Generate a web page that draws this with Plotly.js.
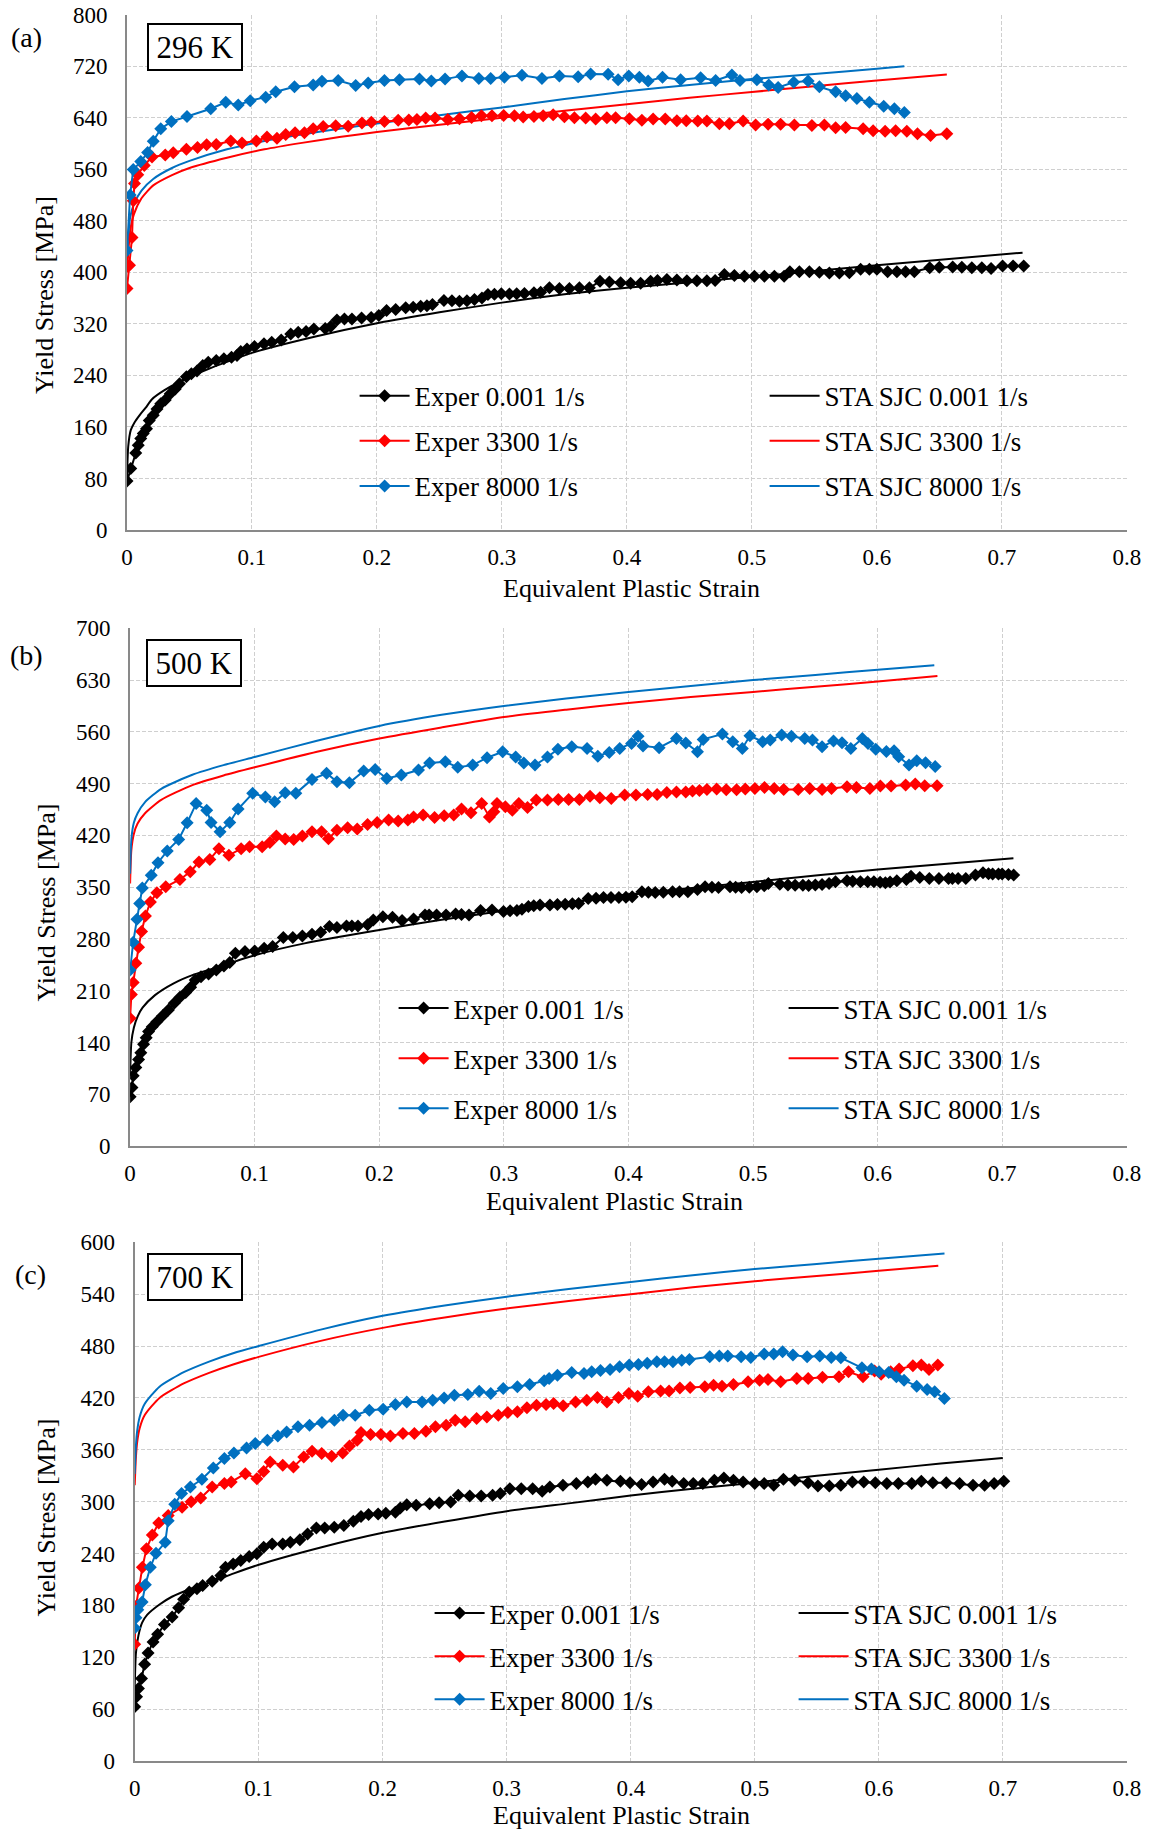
<!DOCTYPE html>
<html>
<head>
<meta charset="utf-8">
<script src="https://cdn.plot.ly/plotly-3.0.1.min.js"></script>
<style>
html,body{margin:0;padding:0;background:#fff;}
#chart{width:1151px;height:1829px;}
</style>
</head>
<body>
<div id="chart"></div>
<script>
// ---------------- DATA ----------------
// Panel (a) 296 K
const a_exp001_x = [0,0.003,0.007,0.009,0.011,0.013,0.0156,0.0178,0.021,0.024,0.027,0.0306,0.0346,0.0386,0.042,0.0475,0.0515,0.056,0.0606,0.065,0.0714,0.0775,0.0836,0.088,0.091,0.096,0.102,0.1096,0.1158,0.1234,0.131,0.137,0.1433,0.1495,0.1586,0.163,0.168,0.174,0.18,0.1877,0.1954,0.2015,0.2077,0.215,0.223,0.229,0.235,0.24,0.2444,0.2536,0.26,0.266,0.272,0.278,0.284,0.2888,0.294,0.2995,0.306,0.3118,0.318,0.3256,0.331,0.338,0.346,0.354,0.362,0.37,0.3785,0.386,0.395,0.403,0.411,0.419,0.4245,0.432,0.44,0.448,0.456,0.464,0.4706,0.478,0.486,0.494,0.502,0.51,0.518,0.5258,0.5304,0.538,0.546,0.554,0.562,0.57,0.578,0.587,0.594,0.6,0.6086,0.616,0.623,0.63,0.6423,0.65,0.6607,0.668,0.676,0.684,0.6914,0.7006,0.709,0.7175];
const a_exp001_y = [75.9,95.5,119.7,131.6,142,150,157,170,178,188,196,202,211.6,219,227,238,242.5,246.7,255.4,260.6,263,265.7,268,271,277,281,285,289,291.5,295,304.4,307,308,312,313,315.8,326,327.7,327.7,329,330,333,340.6,342.3,345,346,347.5,348,350,356.3,356,355.3,356,357.9,360,365.7,366,366.7,366.5,366.7,367,368.3,369,376,375,375,376,376,386,385,384,383,383,386,387.5,389,388,387,387,387,387.5,396.5,395,394,394,394,394,394,401,401,401,400,399,399,399.4,404.7,405,404.7,401,401,401,401,407,408,408.3,408,407,407,406,410,410,410];
const a_exp3300_x = [0,0.002,0.004,0.005,0.006,0.0086,0.0138,0.02,0.0306,0.037,0.0475,0.0564,0.0637,0.0714,0.083,0.092,0.1035,0.112,0.12,0.127,0.1345,0.142,0.149,0.157,0.167,0.177,0.188,0.1955,0.206,0.217,0.2255,0.232,0.239,0.2465,0.2567,0.266,0.2757,0.2836,0.292,0.3014,0.31,0.317,0.3256,0.333,0.341,0.35,0.358,0.367,0.375,0.384,0.391,0.402,0.412,0.421,0.4307,0.44,0.4475,0.4567,0.464,0.474,0.482,0.493,0.503,0.513,0.523,0.534,0.548,0.558,0.567,0.575,0.589,0.597,0.6066,0.615,0.624,0.6325,0.643,0.656];
const a_exp3300_y = [375,411,454,511,538,551.7,566,579,582.3,585.5,591,594,598,598.5,604,601,604,610,608,614,616.6,616.6,623,626.5,627.5,627,632,633,634,636,636.4,637.4,639.5,639.5,637.4,638.4,640.5,643,643,643.6,643,641,642,643,644.5,641.5,640.2,639.5,638,640,640,638.4,636,638,638,635.3,635.3,634.8,634.8,630.6,630.6,634.8,628.6,630,630,628.6,628,628.6,624.4,625,622.8,620,619,620,619,615,612.5,615];
const a_exp8000_x = [0,0.0025,0.005,0.011,0.0165,0.021,0.027,0.0355,0.048,0.067,0.079,0.089,0.0986,0.111,0.119,0.134,0.149,0.156,0.169,0.183,0.193,0.206,0.218,0.234,0.2435,0.2545,0.268,0.2815,0.291,0.302,0.316,0.332,0.346,0.361,0.371,0.385,0.393,0.4015,0.41,0.417,0.4285,0.443,0.459,0.471,0.484,0.4905,0.504,0.5135,0.521,0.5335,0.545,0.554,0.567,0.575,0.584,0.594,0.6055,0.614,0.622];
const a_exp8000_y = [434,520,559.5,572,586,603.6,623,634,642,654,664,660,666.5,672,680.5,688,691,696.6,697.7,690,694,697.7,699,700,697,700,705,701,701,703,706,701,705,703.5,708,707.5,699,705,703,697,703,699,702,698,706.5,698,699,691,687,695,697,688,680.5,674,670,664,657.7,654,648];
const a_sjc001_x = [0,0.001,0.003,0.006,0.01,0.015,0.02,0.03,0.048,0.065,0.08,0.1,0.15,0.2,0.25,0.3,0.35,0.4,0.5,0.6,0.7166];
const a_sjc001_y = [80,130,155,167,178,190,203,217,236,250,261,275,300,321,338,353,366,376,393,411,430.6];
const a_sjc3300_x = [0,0.0025,0.0055,0.0116,0.021,0.036,0.05,0.08,0.11,0.14,0.17,0.2,0.25,0.3,0.35,0.4,0.45,0.5,0.55,0.6,0.656];
const a_sjc3300_y = [400,464,490,515,535,551,562,578,591,601,610,618,629,640,651,661,671,680,689,698,707];
const a_sjc8000_x = [0,0.0025,0.0055,0.0116,0.021,0.036,0.05,0.08,0.11,0.14,0.17,0.2,0.25,0.3,0.35,0.4,0.45,0.5,0.55,0.6,0.622];
const a_sjc8000_y = [430,485,506,527,545,562,573,591,604,614,623,631,644,656,669,681,691,700,708,716,720];

// Panel (b) 500 K
const b_exp001_x = [0,0.0015,0.0025,0.0046,0.0068,0.0086,0.0108,0.0129,0.0148,0.0178,0.0215,0.0261,0.0307,0.0354,0.04,0.0446,0.0486,0.0523,0.0569,0.063,0.0692,0.0753,0.08,0.0845,0.0922,0.1,0.1076,0.1144,0.123,0.1306,0.1383,0.146,0.153,0.16,0.166,0.1737,0.178,0.1829,0.1906,0.1952,0.2029,0.2106,0.2183,0.2275,0.2367,0.24,0.246,0.2536,0.2613,0.266,0.272,0.2813,0.2905,0.2997,0.305,0.3105,0.3145,0.3197,0.324,0.329,0.337,0.343,0.3492,0.355,0.36,0.3677,0.374,0.38,0.386,0.3923,0.398,0.403,0.4108,0.416,0.4215,0.428,0.4354,0.441,0.4477,0.4554,0.4615,0.467,0.4723,0.4815,0.486,0.4908,0.497,0.5031,0.509,0.5123,0.5215,0.528,0.5338,0.54,0.5446,0.55,0.5554,0.561,0.5662,0.5754,0.58,0.5862,0.592,0.597,0.602,0.6062,0.61,0.6154,0.6231,0.6268,0.6338,0.6415,0.6492,0.6569,0.66,0.6646,0.6708,0.6785,0.6846,0.689,0.6923,0.697,0.7,0.705,0.7092];
const b_exp001_y = [66.7,79,95,106,117,126,137.5,146.5,154.7,161.4,168,176,184,193,201,207.4,214.6,224.5,229,232.7,238,243.5,248,260.6,263,263.8,267.4,269.6,282,281.8,284,286.3,289,296.7,295.3,297.6,297.6,297.6,299,305.7,310,309.3,304.8,307,312.5,312.5,312.5,312.5,313.8,313,312.5,318.3,319.2,317,318,318.3,320,323.7,325,326,325.7,326.5,327,327.5,328,334.7,335,336,336,336,336.5,337,343.7,343,342.8,343,343.7,343.7,343.7,346.9,350.5,350,349.6,350.5,350,349.6,350,350.5,352,355,354,353,352.7,352.5,352.3,353,353.6,355,357.2,358.6,358,357.2,357.2,357.2,356.5,356,357,358.6,360.4,364.9,363,361.8,361.8,361.8,361.8,361.8,361.8,366.3,369.4,368,367.7,367.7,367.7,367,366.3];
const b_exp3300_x = [0,0.001,0.0025,0.0046,0.0068,0.0092,0.0123,0.0163,0.0215,0.0286,0.04,0.0483,0.0553,0.064,0.0713,0.0793,0.0891,0.0959,0.106,0.1122,0.1174,0.1245,0.1313,0.1383,0.146,0.1537,0.1592,0.166,0.1746,0.1823,0.1906,0.1983,0.2075,0.2152,0.2229,0.2275,0.2352,0.2444,0.2521,0.2598,0.266,0.2736,0.2822,0.2884,0.292,0.2945,0.3012,0.3068,0.312,0.319,0.326,0.335,0.3437,0.352,0.3606,0.3692,0.377,0.3862,0.397,0.406,0.4154,0.423,0.4308,0.4385,0.446,0.4514,0.457,0.463,0.4708,0.4785,0.4868,0.4938,0.5015,0.5092,0.517,0.5246,0.5363,0.5455,0.5554,0.563,0.5754,0.583,0.5938,0.6022,0.6108,0.6225,0.6302,0.6378,0.6477];
const b_exp3300_y = [172.7,205,221,247,268.7,290,311,330,342.3,350.5,360.4,370.8,384,387.5,402,393,402,404.6,404.6,410.5,419,415,414.5,419,425,425,415.4,427,430.3,428.5,434.8,437.5,440.7,439.3,440.7,445,447.4,444.3,446.5,447.4,455.6,450.6,463,445,452,463,458.7,454,463,457.8,467.7,467.7,468.6,468.6,468.6,473,471,469.9,474.5,474.5,475.4,475.4,478,478.5,478.5,480,480.8,482.2,482.6,481.8,481.8,482.6,483.5,484.8,483.5,482.2,482.2,483.5,482.2,483.5,485.8,484.8,483.5,486.6,486.6,488,489.4,487.1,487.1];
const b_exp8000_x = [0,0.0025,0.0055,0.0077,0.0098,0.017,0.0224,0.0298,0.039,0.0458,0.053,0.0615,0.065,0.0722,0.08,0.0867,0.0984,0.1086,0.116,0.1245,0.133,0.146,0.1577,0.166,0.176,0.1875,0.1967,0.206,0.2177,0.2315,0.2404,0.253,0.263,0.275,0.2865,0.299,0.3095,0.316,0.325,0.335,0.3434,0.3545,0.3668,0.3754,0.3846,0.393,0.4025,0.4077,0.4117,0.4246,0.4385,0.446,0.4554,0.46,0.4754,0.4837,0.4914,0.4975,0.5077,0.5138,0.523,0.5308,0.5415,0.5477,0.5554,0.5646,0.5714,0.5785,0.5877,0.5923,0.5985,0.607,0.6132,0.6169,0.6252,0.6314,0.6385,0.6462];
const b_exp8000_y = [238,275.5,306.5,328,349,366,383,399,414.5,437,463,454,437.5,425,437.5,455.6,476.8,472,465.5,477.6,476.8,495.7,504,492.6,491,507,509,497,501.6,508.3,518,519.6,512,515,525,533,526,518,515,526,536.5,540,537.6,527,532,537.6,544.4,554,541,538.6,551,545,533,549.8,557,546.7,537.6,554.6,546.7,548.9,555.6,554,551,548.9,540,547.6,545.4,537.6,551,544.4,536.5,533.4,534.3,526.4,515,521,518.3,513];
const b_sjc001_x = [0,0.001,0.003,0.006,0.01,0.02,0.035,0.05,0.065,0.085,0.1,0.14,0.2,0.25,0.3,0.35,0.4,0.5,0.6,0.709];
const b_sjc001_y = [95,140,160,175,187,204,220,231,239,250,258,274,292,306,318,329,340,357,374,389];
const b_sjc3300_x = [0,0.001,0.003,0.006,0.012,0.025,0.05,0.075,0.1,0.15,0.2,0.25,0.3,0.35,0.4,0.45,0.5,0.55,0.6,0.648];
const b_sjc3300_y = [355,400,422,436,450,468,488,501,512,533,551,566,580,590,599,607,614,621,628,635.5];
const b_sjc8000_x = [0,0.001,0.003,0.006,0.012,0.025,0.05,0.075,0.1,0.15,0.2,0.25,0.3,0.35,0.4,0.45,0.5,0.55,0.6,0.6455];
const b_sjc8000_y = [368,415,437,450,465,483,502,515,526,548,568,583,595,605,614,622,630,637,644,650];

// Panel (c) 700 K
const c_exp001_x = [0,0.0015,0.003,0.0055,0.008,0.0108,0.0148,0.0185,0.024,0.0302,0.0354,0.0394,0.044,0.0502,0.0548,0.0625,0.0695,0.0732,0.0794,0.0855,0.0923,0.0985,0.104,0.1108,0.1194,0.1255,0.1332,0.1394,0.1465,0.1532,0.1609,0.1686,0.1763,0.1825,0.1886,0.1963,0.2025,0.2102,0.2142,0.2194,0.227,0.2378,0.2455,0.2548,0.2609,0.2702,0.2794,0.2886,0.2948,0.3025,0.3117,0.3209,0.3286,0.3348,0.3453,0.3561,0.3654,0.3716,0.3808,0.3917,0.3994,0.4087,0.418,0.4272,0.4334,0.4427,0.4504,0.4581,0.4674,0.4751,0.4828,0.4906,0.5,0.5076,0.5153,0.5231,0.5323,0.5431,0.5509,0.5601,0.5694,0.5787,0.5879,0.5972,0.6065,0.6158,0.6266,0.6343,0.6436,0.6544,0.6652,0.676,0.6853,0.693,0.7008];
const c_exp001_y = [62.7,74.2,83.8,95.4,112,125,137.7,146.5,158,166.5,177.3,187,195.4,199.2,203,208,214.6,224.2,228,232,236.5,239.6,247.3,251.1,251.1,253,255.8,262.7,269.6,269.6,270.4,272.3,277.3,282.7,285,285.8,286.5,287.7,292.7,296.5,295.7,297.7,298.8,299.6,307.3,306.6,306.6,307.3,309.3,315,315,315,312,317,319,320.9,322.8,325.9,324.7,323.6,322,319.7,322.8,325.9,323.6,320.9,320.9,320.9,324.7,327.4,324.7,322.8,320.9,320.9,319,325.9,324.7,322,318.2,318.2,319,322.8,322.8,322,320.9,320.9,320.9,323.6,322,322,320.9,319,319,320.9,323.6];
const c_exp3300_x = [0,0.001,0.0034,0.0062,0.0095,0.0142,0.0194,0.027,0.0382,0.0455,0.0532,0.0625,0.0723,0.0778,0.0892,0.0985,0.104,0.1092,0.1194,0.128,0.1363,0.143,0.1508,0.1588,0.1677,0.1732,0.1794,0.1825,0.1902,0.1985,0.2062,0.2163,0.2255,0.2348,0.2425,0.2511,0.2585,0.2665,0.2757,0.284,0.2932,0.3009,0.3086,0.3163,0.324,0.3317,0.3378,0.3455,0.3555,0.3645,0.3731,0.3808,0.3901,0.3985,0.4056,0.4142,0.4241,0.4309,0.4396,0.4479,0.4597,0.4668,0.4736,0.4828,0.4946,0.5039,0.5107,0.5209,0.5339,0.5431,0.5546,0.5679,0.5756,0.5873,0.5966,0.6019,0.6096,0.6164,0.6275,0.6343,0.6405,0.6476];
const c_exp3300_y = [135,178.8,200,224,245.4,261.5,275.2,284,293.6,300,304.2,317,320.9,322.8,332.4,326.6,335,345.9,342,340.2,351.7,358.3,355.6,352.5,356.4,364.5,371,380,377.6,377.6,376,378.8,378.8,381.5,386.5,388.4,394.2,392.3,396.1,398,400,403,403.9,408.5,411.6,412.4,413.5,411,415.4,417.4,420.4,415.4,420.4,425,422,427,428.1,428.1,431.6,432,432.8,434.7,433.6,435.5,438.6,440.5,441.3,438.6,442.5,442.5,444,444.4,450.2,444.4,451,447.5,450.2,453.3,457.1,458,452.9,458];
const c_exp8000_x = [0,0.001,0.0025,0.006,0.0086,0.0126,0.0172,0.0246,0.027,0.0323,0.0378,0.0449,0.0542,0.0634,0.0723,0.08,0.0902,0.0972,0.107,0.1154,0.1225,0.1317,0.141,0.151,0.161,0.168,0.1778,0.1892,0.2003,0.2102,0.2194,0.2317,0.2403,0.2495,0.2578,0.2686,0.2778,0.2871,0.2972,0.3086,0.3185,0.3302,0.3342,0.3409,0.3524,0.3623,0.3685,0.3756,0.3833,0.391,0.3988,0.4062,0.4133,0.421,0.4272,0.434,0.4411,0.4473,0.4637,0.4714,0.4782,0.489,0.4968,0.5076,0.5153,0.5224,0.5308,0.5422,0.5524,0.5617,0.5694,0.5864,0.5941,0.6003,0.608,0.6142,0.6204,0.6306,0.639,0.6451,0.6529];
const c_exp8000_y = [153.8,165.8,175,183.8,203.8,224,240.4,253,278,297,309.3,317,325.9,339,350,356.4,362.2,367.2,371,376,380.7,386.5,388.4,391.5,394.2,400,400,405.8,407,412.4,415.4,415.4,417.4,420,423.2,424,427.8,425,430.9,432.8,435.5,439.8,442.5,446.3,449.4,448.3,450.2,451.7,452.9,456,458,458.7,460,461.8,461.8,461.8,463.7,464.5,467.6,468.4,468.4,467.6,466.8,470.7,470.7,473.4,469.5,467.6,468.4,466.8,466.4,454.8,453.3,450.2,449.4,444.4,440.5,433.6,429.7,427,419.2];
const c_sjc001_x = [0,0.001,0.003,0.006,0.01,0.02,0.03,0.045,0.06,0.08,0.1,0.15,0.2,0.25,0.3,0.35,0.4,0.45,0.5,0.55,0.6,0.65,0.7];
const c_sjc001_y = [86,125,145,160,169,181,190,199,206,217,227,247,264,277,289,298,307,315,322,330,337,344,350.6];
const c_sjc3300_x = [0,0.001,0.002,0.004,0.008,0.02,0.04,0.06,0.08,0.1,0.15,0.2,0.25,0.3,0.35,0.4,0.45,0.5,0.55,0.6,0.648];
const c_sjc3300_y = [319,352,369,385,400,420,437,449,459,467.5,486,501,513,523.5,532,540,548,555,561,567,573];
const c_sjc8000_x = [0,0.001,0.002,0.004,0.008,0.02,0.04,0.06,0.08,0.1,0.15,0.2,0.25,0.3,0.35,0.4,0.45,0.5,0.55,0.6,0.653];
const c_sjc8000_y = [332,365,382,398,413,433,450,462,472,480,499,515,527,537,546,554,562,569,575,581,587];

const seriesNames = ['Exper 0.001 1/s','Exper 3300 1/s','Exper 8000 1/s','STA SJC 0.001 1/s','STA SJC 3300 1/s','STA SJC 8000 1/s'];
const panelLabels = ['(a)','(b)','(c)'];
const tempLabels = ['296 K','500 K','700 K'];
const xTicks = [0,0.1,0.2,0.3,0.4,0.5,0.6,0.7,0.8];
const yMaxes = [800,700,600];
const yDticks = [80,70,60];
const xTitle = 'Equivalent Plastic Strain';
const yTitle = 'Yield Stress [MPa]';

// ---------------- STYLE / LAYOUT ----------------
const W = 1151, H = 1829;
const FONT = 'Liberation Serif';
const COLORS = ['#000000', '#FF0000', '#0070C0'];
const px = v => v / W;
const py = v => 1 - v / H;

// plot-area pixel boxes [left, right, top, bottom]
const boxes = [
  [127, 1126.8, 14.7, 530],
  [130.1, 1126.8, 628.3, 1146],
  [134.7, 1126.8, 1242.3, 1761]
];

const panels = [
  {exp:[[a_exp001_x,a_exp001_y],[a_exp3300_x,a_exp3300_y],[a_exp8000_x,a_exp8000_y]],
   sjc:[[a_sjc001_x,a_sjc001_y],[a_sjc3300_x,a_sjc3300_y],[a_sjc8000_x,a_sjc8000_y]]},
  {exp:[[b_exp001_x,b_exp001_y],[b_exp3300_x,b_exp3300_y],[b_exp8000_x,b_exp8000_y]],
   sjc:[[b_sjc001_x,b_sjc001_y],[b_sjc3300_x,b_sjc3300_y],[b_sjc8000_x,b_sjc8000_y]]},
  {exp:[[c_exp001_x,c_exp001_y],[c_exp3300_x,c_exp3300_y],[c_exp8000_x,c_exp8000_y]],
   sjc:[[c_sjc001_x,c_sjc001_y],[c_sjc3300_x,c_sjc3300_y],[c_sjc8000_x,c_sjc8000_y]]}
];

// legend geometry: [first row center y, left text start x, right text start x, group gap]
const legendGeo = [
  [396.7, 414, 824, 7],
  [1009, 453, 843, 12],
  [1614, 489, 853, 5]
];
const ITEMW = 50;
const TEXTOFF = 39.4 + (ITEMW - 30);

const traces = [];
const layout = {
  width: W, height: H,
  margin: {l:0, r:0, t:0, b:0},
  paper_bgcolor: '#ffffff',
  plot_bgcolor: '#ffffff',
  font: {family: FONT, size: 23, color: '#000'},
  annotations: [],
  showlegend: true
};

panels.forEach((p, i) => {
  const n = i === 0 ? '' : String(i + 1);
  const xa = 'x' + n, ya = 'y' + n;
  const legExp = i === 0 ? 'legend' : 'legend' + (2 * i + 1);
  const legSjc = 'legend' + (2 * i + 2);
  p.sjc.forEach((s, k) => {
    traces.push({
      x: s[0], y: s[1], xaxis: xa, yaxis: ya, type: 'scatter', mode: 'lines',
      name: seriesNames[3 + k], legend: legSjc, legendgroup: 'g' + i + 's' + k, legendrank: k + 1,
      line: {color: COLORS[k], width: 2, shape: 'spline', smoothing: 0.6},
      hoverinfo: 'skip'
    });
  });
  p.exp.forEach((s, k) => {
    traces.push({
      x: s[0], y: s[1], xaxis: xa, yaxis: ya, type: 'scatter', mode: 'lines+markers',
      name: seriesNames[k], legend: legExp, legendgroup: 'g' + i + 'e' + k, legendrank: k + 1,
      line: {color: COLORS[k], width: 2},
      marker: {symbol: 'diamond', size: 10, color: COLORS[k], line: {width: 0}},
      hoverinfo: 'skip'
    });
  });

  const b = boxes[i];
  const axCommon = {
    showline: true, linecolor: '#898989', linewidth: 2,
    showgrid: true, gridcolor: '#cfcfcf', gridwidth: 1, griddash: '4px,2px',
    zeroline: false, ticks: '', fixedrange: true,
    tickfont: {family: FONT, size: 23, color: '#000'}
  };
  layout['xaxis' + n] = Object.assign({}, axCommon, {
    domain: [px(b[0]), px(b[1])], anchor: ya, range: [0, 0.8],
    tickmode: 'array', tickvals: xTicks, ticktext: xTicks.map(String),
    ticklabelstandoff: 5
  });
  layout['yaxis' + n] = Object.assign({}, axCommon, {
    domain: [py(b[3]), py(b[2])], anchor: xa, range: [0, yMaxes[i]],
    dtick: yDticks[i], tick0: 0, ticklabelstandoff: 13
  });

  const lg = legendGeo[i];
  const legCommon = {
    xref: 'paper', yref: 'paper', xanchor: 'left', yanchor: 'top',
    bgcolor: 'rgba(0,0,0,0)', borderwidth: 0, itemwidth: ITEMW,
    font: {family: FONT, size: 27, color: '#000'},
    tracegroupgap: lg[3], traceorder: 'grouped', itemclick: false, itemdoubleclick: false
  };
  layout[legExp] = Object.assign({}, legCommon, {x: px(lg[1] - TEXTOFF), y: py(lg[0] - 25)});
  layout[legSjc] = Object.assign({}, legCommon, {x: px(lg[2] - TEXTOFF), y: py(lg[0] - 25)});
});

// panel letters, temperature boxes, axis titles
const letterPos = [[26, 38], [26, 655], [30.6, 1274.5]];
const tempPos = [[195, 47], [194, 663], [195, 1276.5]];
const xTitlePos = [[631.7, 588], [614.5, 1201], [621, 1815]];
const yTitlePos = [[45, 295], [45.5, 903], [45.5, 1518]];
for (let i = 0; i < 3; i++) {
  layout.annotations.push({
    xref: 'paper', yref: 'paper', x: px(letterPos[i][0]), y: py(letterPos[i][1]),
    xanchor: 'center', yanchor: 'middle', showarrow: false, text: panelLabels[i],
    font: {family: FONT, size: 28, color: '#000'}
  });
  layout.annotations.push({
    xref: 'paper', yref: 'paper', x: px(tempPos[i][0]), y: py(tempPos[i][1]),
    xanchor: 'center', yanchor: 'middle', showarrow: false, text: tempLabels[i],
    font: {family: FONT, size: 31, color: '#000'},
    bordercolor: '#000', borderwidth: 2, borderpad: 4, bgcolor: '#fff',
    width: 84, height: 36
  });
  layout.annotations.push({
    xref: 'paper', yref: 'paper', x: px(xTitlePos[i][0]), y: py(xTitlePos[i][1]),
    xanchor: 'center', yanchor: 'middle', showarrow: false, text: xTitle,
    font: {family: FONT, size: 26, color: '#000'}
  });
  layout.annotations.push({
    xref: 'paper', yref: 'paper', x: px(yTitlePos[i][0]), y: py(yTitlePos[i][1]),
    xanchor: 'center', yanchor: 'middle', showarrow: false, text: yTitle, textangle: -90,
    font: {family: FONT, size: 26, color: '#000'}
  });
}

Plotly.newPlot('chart', traces, layout, {staticPlot: true, displayModeBar: false});
</script>
</body>
</html>
